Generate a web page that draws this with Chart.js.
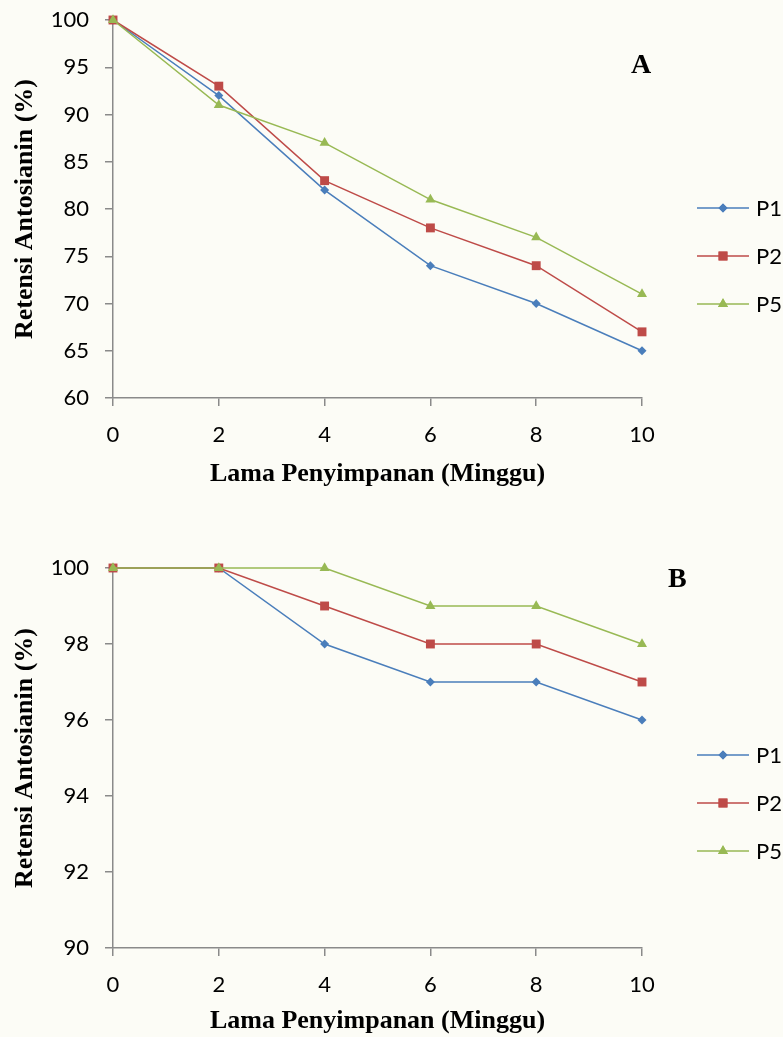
<html lang="id">
<head>
    <meta charset="utf-8"/>
    <title>Retensi Antosianin</title>
    <script src="https://cdn.jsdelivr.net/npm/chart.js"></script>
    <style>
        html, body { margin: 0; padding: 0; }
        body {
            width: 783px;
            height: 1037px;
            background-color: #fcfcf6;
            position: relative;
            overflow: hidden;
        }
        .box { position: absolute; left: 0; width: 783px; }
        .tag {
            position: absolute;
            font-family: 'Liberation Serif', 'Times New Roman', serif;
            font-weight: bold;
            font-size: 28px;
            color: #000;
            line-height: 1;
        }
    </style>
</head>
<body>
    <div class="box" style="top:0;height:510px;"><canvas id="chartA"></canvas></div>
    <div class="box" style="top:510px;height:527px;"><canvas id="chartB"></canvas></div>
    <div class="tag" style="left:631px;top:50px;">A</div>
    <div class="tag" style="left:668px;top:564px;">B</div>

<script>
    // x values: Lama Penyimpanan (Minggu)
    const weeks = [0, 2, 4, 6, 8, 10];
    const seriesNames = ['P1', 'P2', 'P5'];

    // Grafik A
    const a_P1 = [100, 92, 82, 74, 70, 65];
    const a_P2 = [100, 93, 83, 78, 74, 67];
    const a_P5 = [100, 91, 87, 81, 77, 71];
    const a_yTicks = [60, 65, 70, 75, 80, 85, 90, 95, 100];

    // Grafik B
    const b_P1 = [100, 100, 98, 97, 97, 96];
    const b_P2 = [100, 100, 99, 98, 98, 97];
    const b_P5 = [100, 100, 100, 99, 99, 98];
    const b_yTicks = [90, 92, 94, 96, 98, 100];

    const xTicks = [0, 2, 4, 6, 8, 10];

    const colors = ['#4A7EBB', '#BE4B48', '#98B954'];
    const markers = ['rectRot', 'rect', 'triangle'];
    const markerSize = [4.5, 6.3, 5.8];

    const axisGray = '#8a8a8a';
    const tickFont = { family: 'Lato', size: 22 };
    const titleFont = { family: 'Liberation Serif', size: 26, weight: 'bold' };

    function makeDatasets(lists) {
        return lists.map((vals, i) => ({
            label: seriesNames[i],
            data: vals.map((v, j) => ({ x: weeks[j], y: v })),
            borderColor: colors[i],
            backgroundColor: colors[i],
            borderWidth: 1.5,
            pointStyle: markers[i],
            pointRadius: markerSize[i],
            pointBorderWidth: 0,
            pointBackgroundColor: colors[i],
            tension: 0,
            clip: false,
            order: 2 - i
        }));
    }

    // legend drawn like excel: short line with marker in the middle
    const lineLegend = {
        id: 'lineLegend',
        afterDraw(chart, args, opts) {
            const ctx = chart.ctx;
            ctx.save();
            chart.data.datasets.forEach((ds, i) => {
                const y = opts.ys[i];
                const mid = (opts.x0 + opts.x1) / 2;
                ctx.strokeStyle = ds.borderColor;
                ctx.lineWidth = 1.5;
                ctx.beginPath();
                ctx.moveTo(opts.x0, y);
                ctx.lineTo(opts.x1, y);
                ctx.stroke();
                ctx.fillStyle = ds.backgroundColor;
                ctx.beginPath();
                Chart.helpers.drawPoint(ctx, {
                    pointStyle: ds.pointStyle, radius: ds.pointRadius, rotation: 0, borderWidth: 0
                }, mid, y);
                ctx.fill();
                ctx.fillStyle = '#000';
                ctx.font = '22px Lato';
                ctx.textBaseline = 'middle';
                ctx.textAlign = 'left';
                ctx.fillText(ds.label, opts.textX, y + 1);
            });
            ctx.restore();
        }
    };

    function buildChart(id, lists, yMin, yMax, yTickList, topPad, xHeight, xTitlePad, legendYs) {
        const ctx = document.getElementById(id).getContext('2d');
        return new Chart(ctx, {
            type: 'line',
            data: { datasets: makeDatasets(lists) },
            options: {
                responsive: true,
                maintainAspectRatio: false,
                animation: false,
                layout: { padding: { top: topPad, right: 141, left: 0, bottom: 0 } },
                plugins: {
                    legend: { display: false },
                    tooltip: { enabled: false },
                    lineLegend: { x0: 697, x1: 749, textX: 756, ys: legendYs }
                },
                scales: {
                    x: {
                        type: 'linear',
                        min: xTicks[0],
                        max: xTicks[xTicks.length - 1],
                        afterBuildTicks: s => { s.ticks = xTicks.map(v => ({ value: v })); },
                        afterFit: s => { s.height = xHeight; s.paddingLeft = 0; s.paddingRight = 0; },
                        grid: { drawOnChartArea: false, drawTicks: true, tickLength: 8, color: axisGray, lineWidth: 1.5 },
                        border: { color: axisGray, width: 1.5 },
                        ticks: { font: tickFont, color: '#000', padding: 16, maxRotation: 0 },
                        title: {
                            display: true,
                            text: 'Lama Penyimpanan (Minggu)',
                            font: titleFont,
                            color: '#000',
                            padding: { top: 0, bottom: xTitlePad }
                        }
                    },
                    y: {
                        min: yMin,
                        max: yMax,
                        afterBuildTicks: s => { s.ticks = yTickList.map(v => ({ value: v })); },
                        afterFit: s => { s.width = 113; s.paddingTop = 0; s.paddingBottom = 0; },
                        grid: { drawOnChartArea: false, drawTicks: true, tickLength: 8, color: axisGray, lineWidth: 1.5 },
                        border: { color: axisGray, width: 1.5 },
                        ticks: { font: tickFont, color: '#000', padding: 16 },
                        title: {
                            display: true,
                            text: 'Retensi Antosianin (%)',
                            font: titleFont,
                            color: '#000',
                            padding: { top: 10, bottom: 0 }
                        }
                    }
                }
            },
            plugins: [lineLegend]
        });
    }

    buildChart('chartA', [a_P1, a_P2, a_P5], 60, 100, a_yTicks, 20, 112, 20, [208, 256, 304]);
    buildChart('chartB', [b_P1, b_P2, b_P5], 90, 100, b_yTicks, 58, 89, 0, [245, 293, 341]);
</script>
</body>
</html>
